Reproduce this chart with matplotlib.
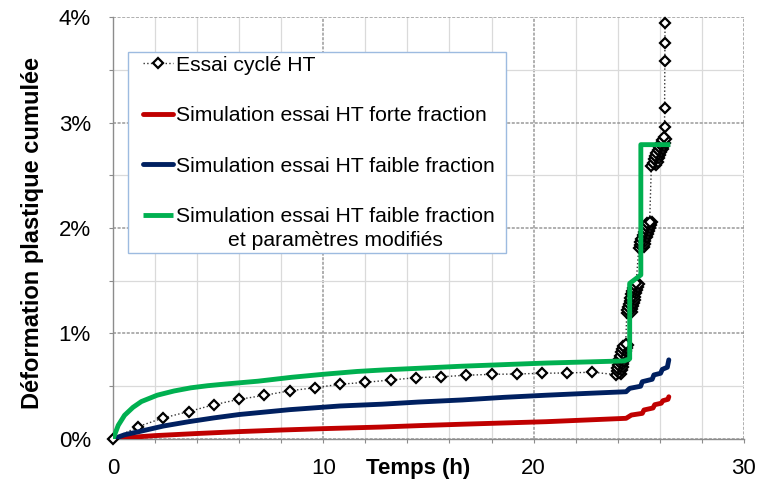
import matplotlib
matplotlib.use('Agg')
import matplotlib.pyplot as plt
from matplotlib.legend_handler import HandlerLine2D
from matplotlib.ticker import FixedLocator

plt.rcParams['font.family'] = ['Liberation Sans', 'DejaVu Sans']

# ---------------- data (time in h, strain in %) ----------------
# regular measurements, then the four dense groups near 24-26 h, then last points
essai_t = [0.0, 1.2, 2.4, 3.6, 4.8, 6.0, 7.2, 8.4, 9.6, 10.8, 12.0, 13.2, 14.4,
           15.6, 16.8, 18.0, 19.2, 20.4, 21.6, 22.8,
           # group 1
           23.93, 24.17, 24.05, 23.96, 24.20, 24.08, 23.99, 24.23, 24.11, 24.02,
           24.26, 24.14, 24.05, 24.29, 24.17, 24.08, 24.32, 24.20, 24.12, 24.36,
           24.24, 24.16, 24.40, 24.28, 24.20, 24.44, 24.32, 24.26, 24.48, 24.38,
           # group 2
           24.43, 24.67, 24.55, 24.46, 24.70, 24.58, 24.50, 24.74, 24.62, 24.53,
           24.77, 24.65, 24.57, 24.81, 24.69, 24.60, 24.84, 24.72, 24.64, 24.88,
           24.76, 24.68, 24.92, 24.80, 24.72, 24.96, 24.84, 24.76, 25.00, 24.88,
           # group 3
           25.00, 25.24, 25.12, 25.04, 25.28, 25.16, 25.08, 25.32, 25.20, 25.13,
           25.37, 25.25, 25.18, 25.42, 25.30, 25.23, 25.47, 25.35, 25.28, 25.52,
           25.40, 25.34, 25.58, 25.46, 25.40, 25.64, 25.52,
           # group 4
           25.60, 25.84, 25.72, 25.66, 25.90, 25.78, 25.72, 25.96, 25.84, 25.78,
           26.02, 25.90, 25.84, 26.08, 25.96, 25.90, 26.14, 26.02, 25.96, 26.20,
           26.08, 26.02, 26.26, 26.14, 26.10, 26.32, 26.20,
           # last points
           26.23, 26.23, 26.24, 26.24, 26.25]
essai_y = [0.0, 0.118, 0.20, 0.26, 0.325, 0.376, 0.414, 0.457, 0.486, 0.519,
           0.537, 0.559, 0.581, 0.590, 0.604, 0.613, 0.616, 0.623, 0.626, 0.633,
           # group 1
           0.61, 0.62, 0.63, 0.64, 0.65, 0.66, 0.67, 0.68, 0.69, 0.70,
           0.71, 0.72, 0.73, 0.74, 0.75, 0.76, 0.77, 0.78, 0.79, 0.80,
           0.81, 0.82, 0.83, 0.84, 0.85, 0.86, 0.87, 0.88, 0.89, 0.90,
           # group 2
           1.19, 1.20, 1.21, 1.22, 1.23, 1.24, 1.25, 1.26, 1.27, 1.28,
           1.29, 1.30, 1.31, 1.32, 1.33, 1.34, 1.35, 1.36, 1.37, 1.38,
           1.39, 1.40, 1.41, 1.42, 1.43, 1.44, 1.45, 1.46, 1.47, 1.48,
           # group 3
           1.81, 1.82, 1.83, 1.84, 1.85, 1.86, 1.87, 1.88, 1.89, 1.90,
           1.91, 1.92, 1.93, 1.94, 1.95, 1.96, 1.97, 1.98, 1.99, 2.00,
           2.01, 2.02, 2.03, 2.04, 2.05, 2.06, 2.06,
           # group 4
           2.59, 2.60, 2.61, 2.62, 2.63, 2.64, 2.65, 2.66, 2.67, 2.68,
           2.69, 2.70, 2.71, 2.72, 2.73, 2.74, 2.75, 2.76, 2.77, 2.78,
           2.79, 2.80, 2.81, 2.82, 2.83, 2.84, 2.86,
           # last points
           2.96, 3.14, 3.58, 3.75, 3.94]

forte_t = [0, 1, 2, 3, 4, 6, 8, 10, 12.7, 14.6, 16.6, 18.6, 20.6, 22.5, 24.4,
           24.65, 25.17, 25.25, 25.68, 25.76, 26.07, 26.15, 26.39, 26.43]
forte_y = [0, 0.018, 0.032, 0.042, 0.052, 0.07, 0.085, 0.098, 0.113, 0.127,
           0.14, 0.152, 0.164, 0.18, 0.196,
           0.227, 0.243, 0.275, 0.294, 0.325, 0.339, 0.363, 0.376, 0.40]

faible_t = [0, 0.55, 1.24, 2.4, 3.6, 4.8, 6.0, 8.4, 10.8, 12.8, 14.5, 16.6,
            18.6, 20.6, 22.5, 24.4,
            24.57, 25.09, 25.17, 25.64, 25.72, 26.04, 26.12, 26.36, 26.43]
faible_y = [0, 0.04, 0.07, 0.123, 0.164, 0.20, 0.232, 0.278, 0.313, 0.33, 0.35,
            0.37, 0.395, 0.415, 0.432, 0.448,
            0.48, 0.50, 0.543, 0.566, 0.607, 0.623, 0.66, 0.68, 0.75]

modif_t = [0, 0.25, 0.55, 0.95, 1.35, 2.1, 2.9, 3.7, 4.5, 5.4, 6.9, 8.5, 10.1,
           11.6, 12.9, 14.5, 16.6, 18.6, 20.6, 22.5, 24.3,
           24.57, 24.57, 25.1, 25.1, 26.5]
modif_y = [0, 0.13, 0.225, 0.30, 0.355, 0.415, 0.455, 0.485, 0.505, 0.522,
           0.548, 0.585, 0.615, 0.64, 0.655, 0.67, 0.69, 0.705, 0.72, 0.73, 0.74,
           0.76, 1.475, 1.555, 2.79, 2.79]

labels = ['Essai cyclé HT',
          'Simulation essai HT forte fraction',
          'Simulation essai HT faible fraction',
          'Simulation essai HT faible fraction\net paramètres modifiés']
colors = ['black', '#C00000', '#002060', '#00B050']

x_ticks = [0, 10, 20, 30]
x_minor = [2, 4, 6, 8, 12, 14, 16, 18, 22, 24, 26, 28]
y_ticks = [0, 1, 2, 3, 4]
y_tick_labels = ['0%', '1%', '2%', '3%', '4%']
y_minor = [0.5, 1.5, 2.5, 3.5]


class ShiftedHandler(HandlerLine2D):
    def __init__(self, xoff=0.0, yoff=0.0, **kw):
        super().__init__(**kw)
        self.xoff = xoff
        self.yoff = yoff

    def create_artists(self, legend, orig_handle, xdescent, ydescent, width,
                       height, fontsize, trans):
        xo = self.xoff * fontsize
        yo = self.yoff * fontsize
        return super().create_artists(legend, orig_handle, xdescent - xo,
                                      ydescent - 2 * yo, width - xo, height,
                                      fontsize, trans)


fig = plt.figure(figsize=(7.61, 4.90), dpi=100)
ax = fig.add_axes([0.1485, 0.1041, 0.829, 0.8612])

l0, = ax.plot(essai_t, essai_y, linestyle=':', color='#333333', linewidth=1.0,
              marker='D', markersize=5, markerfacecolor='white',
              markeredgecolor='black', markeredgewidth=1.6, clip_on=False,
              zorder=3, label=labels[0])
l1, = ax.plot(forte_t, forte_y, color=colors[1], linewidth=3.5,
              solid_capstyle='round', zorder=4, label=labels[1])
l2, = ax.plot(faible_t, faible_y, color=colors[2], linewidth=3.5,
              solid_capstyle='round', zorder=4, label=labels[2])
l3, = ax.plot(modif_t, modif_y, color=colors[3], linewidth=3.5,
              solid_capstyle='butt', zorder=5, label=labels[3])

ax.set_xlim(0, 30)
ax.set_ylim(0, 4)
ax.xaxis.set_major_locator(FixedLocator(x_ticks))
ax.xaxis.set_minor_locator(FixedLocator(x_minor))
ax.yaxis.set_major_locator(FixedLocator(y_ticks))
ax.yaxis.set_minor_locator(FixedLocator(y_minor))
ax.set_yticklabels(y_tick_labels)

ax.grid(which='major', color='#9a9a9a', linestyle=(0, (2, 1)), linewidth=1.1)
ax.grid(which='minor', color='#dadada', linestyle='-', linewidth=0.9)
ax.set_axisbelow(True)

for s in ['top', 'right']:
    ax.spines[s].set_visible(False)
for s in ['left', 'bottom']:
    ax.spines[s].set_color('#8c8c8c')
    ax.spines[s].set_linewidth(1.0)

ax.tick_params(axis='both', which='both', direction='out', color='#8c8c8c',
               length=3, width=0.8, labelsize=16, labelcolor='black')
ax.tick_params(axis='y', which='both', pad=13)
ax.tick_params(axis='x', which='both', pad=11)

ax.set_xlabel('Temps (h)', fontsize=16, fontweight='bold')
ax.xaxis.set_label_coords(0.483, -0.045)
ax.set_ylabel('Déformation plastique cumulée', fontsize=17, fontweight='bold')
ax.yaxis.set_label_coords(-0.11, 0.487)

x0 = 128.3 / 761
top = 1 - 51.7 / 490
w = (505.7 - 128.3) / 761
leg = ax.legend(handles=[l0, l1, l2, l3],
                loc='upper left', bbox_to_anchor=(x0, top - 0.45, w, 0.45),
                bbox_transform=fig.transFigure, mode='expand',
                borderaxespad=0, borderpad=0.18, fontsize=15.2,
                labelspacing=1.5, handlelength=1.95, handletextpad=0.12,
                numpoints=1, fancybox=False, framealpha=1,
                edgecolor='#9dbbe0', facecolor='white',
                handler_map={l0: ShiftedHandler(xoff=0.5),
                             l1: ShiftedHandler(xoff=0.5),
                             l2: ShiftedHandler(xoff=0.5),
                             l3: ShiftedHandler(xoff=0.5, yoff=0.64)})
leg.get_frame().set_linewidth(1.0)
for t in leg.get_texts():
    t.set_multialignment('center')
leg.get_texts()[3].set_linespacing(1.28)
leg.set_zorder(10)

fig.savefig('out.png', dpi=100)
